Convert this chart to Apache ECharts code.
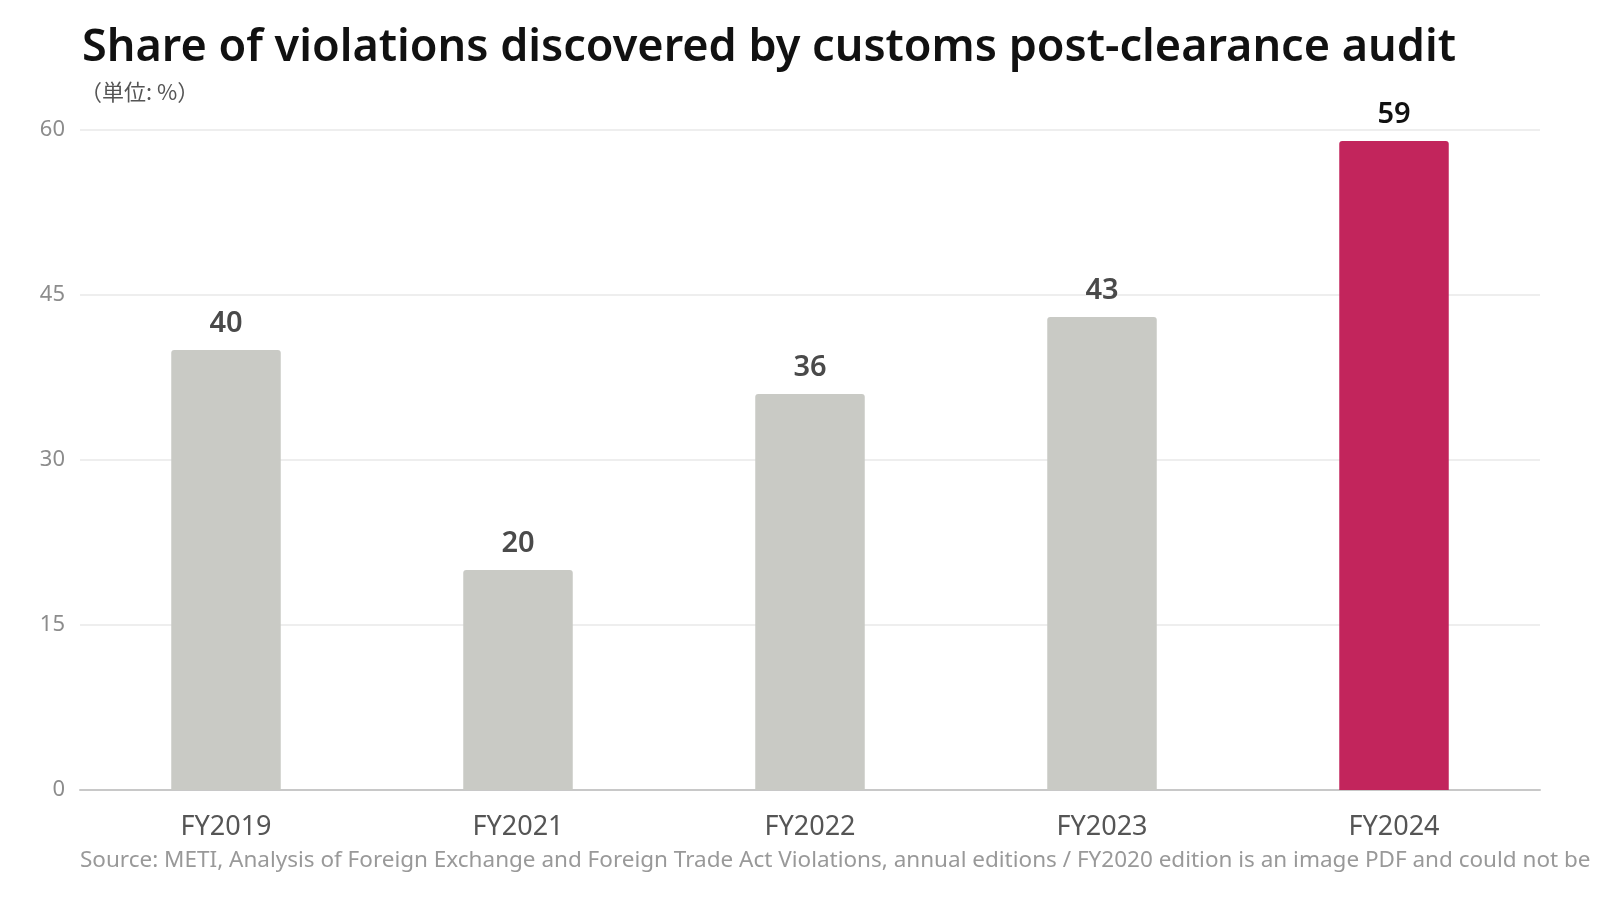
<!DOCTYPE html>
<html>
<head>
<meta charset="utf-8">
<script src="https://cdn.jsdelivr.net/npm/echarts@6/dist/echarts.min.js"></script>
<style>
html,body{margin:0;padding:0;background:#fff;}
#chart{width:1600px;height:900px;}
</style>
</head>
<body>
<div id="chart"></div>
<script>
const categories = ['FY2019', 'FY2021', 'FY2022', 'FY2023', 'FY2024'];
const values = [40, 20, 36, 43, 59];
const highlightIndex = 4;
const yTicks = [0, 15, 30, 45, 60];
const titleText = 'Share of violations discovered by customs post-clearance audit';
const unitText = '（単位: %）';
const sourceText = 'Source: METI, Analysis of Foreign Exchange and Foreign Trade Act Violations, annual editions / FY2020 edition is an image PDF and could not be';

const FONT = '"Noto Sans", "Noto Sans CJK JP", sans-serif';
const chart = echarts.init(document.getElementById('chart'));
chart.setOption({
  animation: false,
  backgroundColor: '#ffffff',
  title: {
    text: titleText,
    left: 77,
    top: 21,
    textStyle: { fontFamily: FONT, fontSize: 45, fontWeight: 600, color: '#111111' }
  },
  graphic: [
    { type: 'text', left: 80, top: 81, style: { text: unitText, fontFamily: '"Noto Sans CJK JP", sans-serif', fontSize: 22, fill: '#555555' } },
    { type: 'text', left: 80, top: 849, style: { text: sourceText, fontFamily: FONT, fontSize: 22.5, fill: '#999999' } }
  ],
  grid: { left: 80, right: 60, top: 130, bottom: 110, containLabel: false },
  xAxis: {
    type: 'category',
    data: categories,
    axisLine: { lineStyle: { color: '#c8c8c8', width: 2 } },
    axisTick: { show: false },
    axisLabel: { fontFamily: FONT, fontSize: 27, color: '#555555', margin: 24 }
  },
  yAxis: {
    type: 'value',
    min: yTicks[0],
    max: yTicks[yTicks.length - 1],
    interval: yTicks[1] - yTicks[0],
    axisLine: { show: false },
    axisTick: { show: false },
    axisLabel: { fontFamily: FONT, fontSize: 22, color: '#8c8c8c', margin: 15 },
    splitLine: { lineStyle: { color: '#eeeeee', width: 2 } }
  },
  series: [{
    type: 'bar',
    barWidth: '37.5%',
    data: values.map((v, i) => ({
      value: v,
      itemStyle: { color: i === highlightIndex ? '#c2255c' : '#c9cac5', borderRadius: [3, 3, 0, 0] },
      label: { color: i === highlightIndex ? '#111111' : '#4a4a4a' }
    })),
    label: { show: true, position: 'top', distance: 12, fontFamily: FONT, fontSize: 29, fontWeight: 600 }
  }]
});
</script>
</body>
</html>
